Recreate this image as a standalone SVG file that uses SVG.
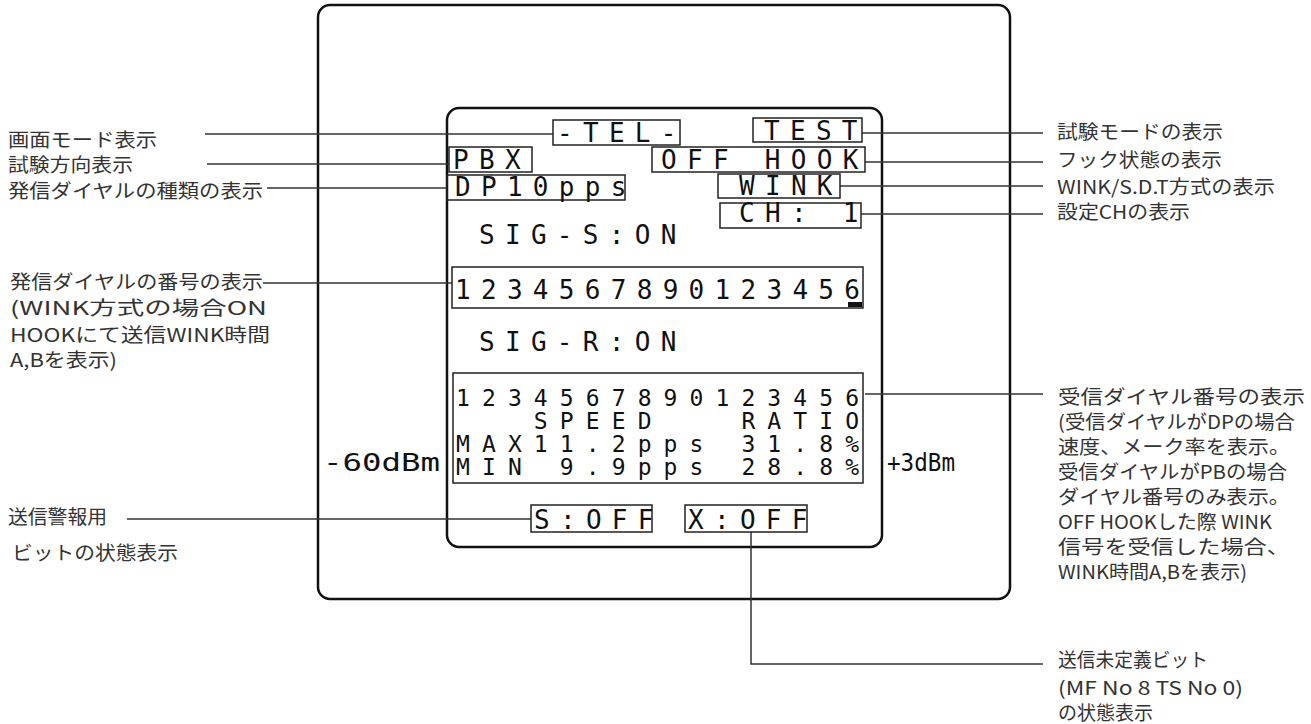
<svg xmlns="http://www.w3.org/2000/svg" width="1311" height="724" viewBox="0 0 1311 724">
<style>
.frame{fill:none;stroke:#111;stroke-width:2.5}
.box{fill:none;stroke:#222;stroke-width:1.5}
.ln{fill:none;stroke:#333;stroke-width:1.5}
.d{font-family:"DejaVu Sans Mono",monospace;font-size:26px;letter-spacing:10.3px;fill:#111}
.r{font-family:"DejaVu Sans Mono",monospace;font-size:23px;letter-spacing:12.1px;fill:#111}
.db{font-family:"DejaVu Sans Mono",monospace;font-size:24px;fill:#111}
.lb{font-family:"Noto Sans CJK JP",sans-serif;font-size:19px;fill:#333}
</style>
<rect width="1311" height="724" fill="#fff"/>
<g id="outer-frame"><rect class="frame" x="318" y="5" width="692" height="594" rx="12"/></g>
<g id="screen">
<rect class="frame" x="447" y="108" width="435" height="439" rx="12"/>
</g>
<g id="connectors">
<line class="ln" x1="205" y1="134" x2="553" y2="134"/>
<line class="ln" x1="207" y1="164" x2="449" y2="164"/>
<line class="ln" x1="267" y1="188" x2="447" y2="188"/>
<line class="ln" x1="263" y1="283" x2="452" y2="283"/>
<line class="ln" x1="127" y1="519" x2="531" y2="519"/>
<line class="ln" x1="862" y1="133" x2="1043" y2="133"/>
<line class="ln" x1="865" y1="162" x2="1043" y2="162"/>
<line class="ln" x1="840" y1="186" x2="1043" y2="186"/>
<line class="ln" x1="861" y1="214" x2="1043" y2="214"/>
<line class="ln" x1="865" y1="394" x2="1043" y2="394"/>
<polyline class="ln" points="751,532 751,664 1043,664"/>
</g>
<g id="mode"><rect class="box" x="553" y="120" width="127" height="25"/><text class="d" x="557" y="142">-TEL-</text></g>
<g id="test"><rect class="box" x="753" y="118" width="109" height="24"/><text class="d" x="764" y="140">TEST</text></g>
<g id="pbx"><rect class="box" x="449" y="147" width="83" height="25"/><text class="d" x="453" y="169">PBX</text></g>
<g id="hook"><rect class="box" x="652" y="147" width="213" height="25"/><text class="d" x="661" y="169">OFF HOOK</text></g>
<g id="dial-type"><rect class="box" x="447" y="175" width="178" height="25"/><text class="d" x="455" y="196">DP10pps</text></g>
<g id="wink"><rect class="box" x="718" y="174" width="122" height="24"/><text class="d" x="739" y="195">WINK</text></g>
<g id="ch"><rect class="box" x="720" y="203" width="141" height="25"/><text class="d" x="739" y="222" xml:space="preserve">CH: 1</text></g>
<g id="sig-s"><text class="d" x="479" y="244">SIG-S:ON</text></g>
<g id="send-number"><rect class="box" x="452" y="267" width="411" height="41"/><text class="d" x="455" y="299">1234567890123456</text><rect x="848" y="302" width="14" height="5" fill="#111"/></g>
<g id="sig-r"><text class="d" x="479" y="351">SIG-R:ON</text></g>
<g id="recv"><rect class="box" x="453" y="373" width="410" height="110"/>
<text class="r" x="456" y="406">1234567890123456</text>
<text class="r" x="456" y="429" xml:space="preserve">   SPEED   RATIO</text>
<text class="r" x="456" y="452">MAX11.2pps 31.8%</text>
<text class="r" x="456" y="475" xml:space="preserve">MIN 9.9pps 28.8%</text></g>
<g id="level-min"><text class="db" x="323" y="471" textLength="117" lengthAdjust="spacingAndGlyphs">-60dBm</text></g>
<g id="level-max"><text class="db" x="887" y="471" textLength="68" lengthAdjust="spacingAndGlyphs">+3dBm</text></g>
<g id="s-off"><rect class="box" x="531" y="505" width="121" height="27"/><text class="d" x="534" y="529">S:OFF</text></g>
<g id="x-off"><rect class="box" x="685" y="505" width="122" height="27"/><text class="d" x="688" y="529">X:OFF</text></g>
<g id="labels-left">
<text class="lb" x="8" y="147" textLength="149" lengthAdjust="spacingAndGlyphs">画面モード表示</text>
<text class="lb" x="8" y="172" textLength="125" lengthAdjust="spacingAndGlyphs">試験方向表示</text>
<text class="lb" x="8" y="198" textLength="255" lengthAdjust="spacingAndGlyphs">発信ダイヤルの種類の表示</text>
<text class="lb" x="10" y="289" textLength="253" lengthAdjust="spacingAndGlyphs">発信ダイヤルの番号の表示</text>
<text class="lb" x="10" y="315" textLength="257" lengthAdjust="spacingAndGlyphs">(WINK方式の場合ON</text>
<text class="lb" x="10" y="342" textLength="260" lengthAdjust="spacingAndGlyphs">HOOKにて送信WINK時間</text>
<text class="lb" x="10" y="367" textLength="107" lengthAdjust="spacingAndGlyphs">A,Bを表示)</text>
<text class="lb" x="8" y="524" textLength="99" lengthAdjust="spacingAndGlyphs">送信警報用</text>
<text class="lb" x="12" y="560" textLength="166" lengthAdjust="spacingAndGlyphs">ビットの状態表示</text>
</g>
<g id="labels-right">
<text class="lb" x="1057" y="139" textLength="166" lengthAdjust="spacingAndGlyphs">試験モードの表示</text>
<text class="lb" x="1057" y="167" textLength="165" lengthAdjust="spacingAndGlyphs">フック状態の表示</text>
<text class="lb" x="1057" y="194" textLength="218" lengthAdjust="spacingAndGlyphs">WINK/S.D.T方式の表示</text>
<text class="lb" x="1057" y="219" textLength="133" lengthAdjust="spacingAndGlyphs">設定CHの表示</text>
<text class="lb" x="1058" y="404" textLength="247" lengthAdjust="spacingAndGlyphs">受信ダイヤル番号の表示</text>
<text class="lb" x="1058" y="429" textLength="237" lengthAdjust="spacingAndGlyphs">(受信ダイヤルがDPの場合</text>
<text class="lb" x="1058" y="454" textLength="232" lengthAdjust="spacingAndGlyphs">速度、メーク率を表示。</text>
<text class="lb" x="1058" y="479" textLength="229" lengthAdjust="spacingAndGlyphs">受信ダイヤルがPBの場合</text>
<text class="lb" x="1058" y="504" textLength="232" lengthAdjust="spacingAndGlyphs">ダイヤル番号のみ表示。</text>
<text class="lb" x="1058" y="529" textLength="214" lengthAdjust="spacingAndGlyphs">OFF HOOKした際 WINK</text>
<text class="lb" x="1058" y="554" textLength="232" lengthAdjust="spacingAndGlyphs">信号を受信した場合、</text>
<text class="lb" x="1058" y="579" textLength="189" lengthAdjust="spacingAndGlyphs">WINK時間A,Bを表示)</text>
<text class="lb" x="1058" y="667" textLength="150" lengthAdjust="spacingAndGlyphs">送信未定義ビット</text>
<text class="lb" x="1058" y="695" textLength="185" lengthAdjust="spacingAndGlyphs">(MF No 8  TS No 0)</text>
<text class="lb" x="1058" y="720" textLength="95" lengthAdjust="spacingAndGlyphs">の状態表示</text>
</g>
</svg>
